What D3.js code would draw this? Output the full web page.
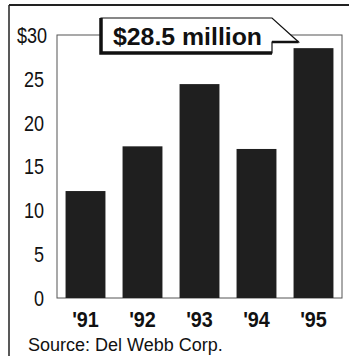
<!DOCTYPE html>
<html>
<head>
  <script src="https://cdn.jsdelivr.net/npm/d3@7"></script>
  <style>
    body { margin: 0; background: #fff; }
  </style>
</head>
<body>
  <svg width="349" height="356" id="mainsvg"></svg>
  <script>
    const years = ["'91", "'92", "'93", "'94", "'95"];
    const values = [12.2, 17.3, 24.4, 17.0, 28.5];
    const yTicks = [0, 5, 10, 15, 20, 25, 30];
    const calloutText = '$28.5 million';
    const sourceText = 'Source: Del Webb Corp.';

    const svg = d3.select('#mainsvg');
    const plot = { left: 57, right: 342, top: 35, bottom: 298 };

    // outer frame (top rule + left rule)
    svg.append('line').attr('x1', 9).attr('x2', 349).attr('y1', 5).attr('y2', 5)
      .attr('stroke', '#222').attr('stroke-width', 2);
    svg.append('line').attr('x1', 9).attr('x2', 9).attr('y1', 5).attr('y2', 356)
      .attr('stroke', '#222').attr('stroke-width', 1.5);

    const x = d3.scaleBand()
      .domain(years)
      .range([plot.left, plot.right])
      .paddingInner(0.3)
      .paddingOuter(0.15);

    const y = d3.scaleLinear()
      .domain([0, 30])
      .range([plot.bottom, plot.top]);

    // plot frame
    svg.append('rect')
      .attr('x', plot.left).attr('y', plot.top)
      .attr('width', plot.right - plot.left).attr('height', plot.bottom - plot.top)
      .attr('fill', 'none').attr('stroke', '#555').attr('stroke-width', 1);

    // y labels (condensed look via horizontal squeeze)
    svg.append('g').selectAll('text').data(yTicks).join('text')
      .attr('transform', d => `translate(${d === 30 ? 47 : 44},${y(d)}) scale(0.82,1)`)
      .attr('dy', '0.36em')
      .attr('text-anchor', 'end')
      .attr('font-family', 'Liberation Sans, Arial, sans-serif')
      .attr('font-size', 22)
      .attr('fill', '#111')
      .text(d => d === 30 ? '$30' : d);

    // bars
    svg.append('g').selectAll('rect').data(values).join('rect')
      .attr('x', (d, i) => x(years[i]))
      .attr('y', d => y(d))
      .attr('width', x.bandwidth())
      .attr('height', d => y(0) - y(d))
      .attr('fill', '#1f1f1f');

    // x labels
    svg.append('g').selectAll('text').data(years).join('text')
      .attr('transform', d => `translate(${x(d) + x.bandwidth() / 2},327) scale(0.9,1)`)
      .attr('text-anchor', 'middle')
      .attr('font-family', 'Liberation Sans, Arial, sans-serif')
      .attr('font-weight', 'bold')
      .attr('font-size', 22)
      .attr('fill', '#111')
      .text(d => d);

    // callout
    const cx0 = 101, cx1 = 272, cy0 = 18, cy1 = 53;
    const tip = [x("'95") + 5, 42];
    svg.append('path')
      .attr('d', `M${cx0},${cy0} H${cx1} L${tip[0]},${tip[1]} H${cx1} V${cy1} H${cx0} Z`)
      .attr('fill', '#fff').attr('stroke', '#111').attr('stroke-width', 1.2);
    // shadow on left and bottom
    svg.append('path')
      .attr('d', `M${cx0},${cy0} V${cy1} H${cx1}`)
      .attr('fill', 'none').attr('stroke', '#111').attr('stroke-width', 3.5);
    svg.append('line')
      .attr('x1', cx1).attr('x2', tip[0]).attr('y1', tip[1]).attr('y2', tip[1])
      .attr('stroke', '#111').attr('stroke-width', 2.5);
    svg.append('text')
      .attr('x', 113).attr('y', 45)
      .attr('textLength', 149)
      .attr('lengthAdjust', 'spacingAndGlyphs')
      .attr('font-family', 'Liberation Sans, Arial, sans-serif')
      .attr('font-weight', 'bold')
      .attr('font-size', 24)
      .attr('fill', '#111')
      .text(calloutText);

    // source
    svg.append('text')
      .attr('x', 28).attr('y', 351)
      .attr('font-family', 'Liberation Sans, Arial, sans-serif')
      .attr('font-size', 18)
      .attr('fill', '#111')
      .text(sourceText);
  </script>
</body>
</html>
